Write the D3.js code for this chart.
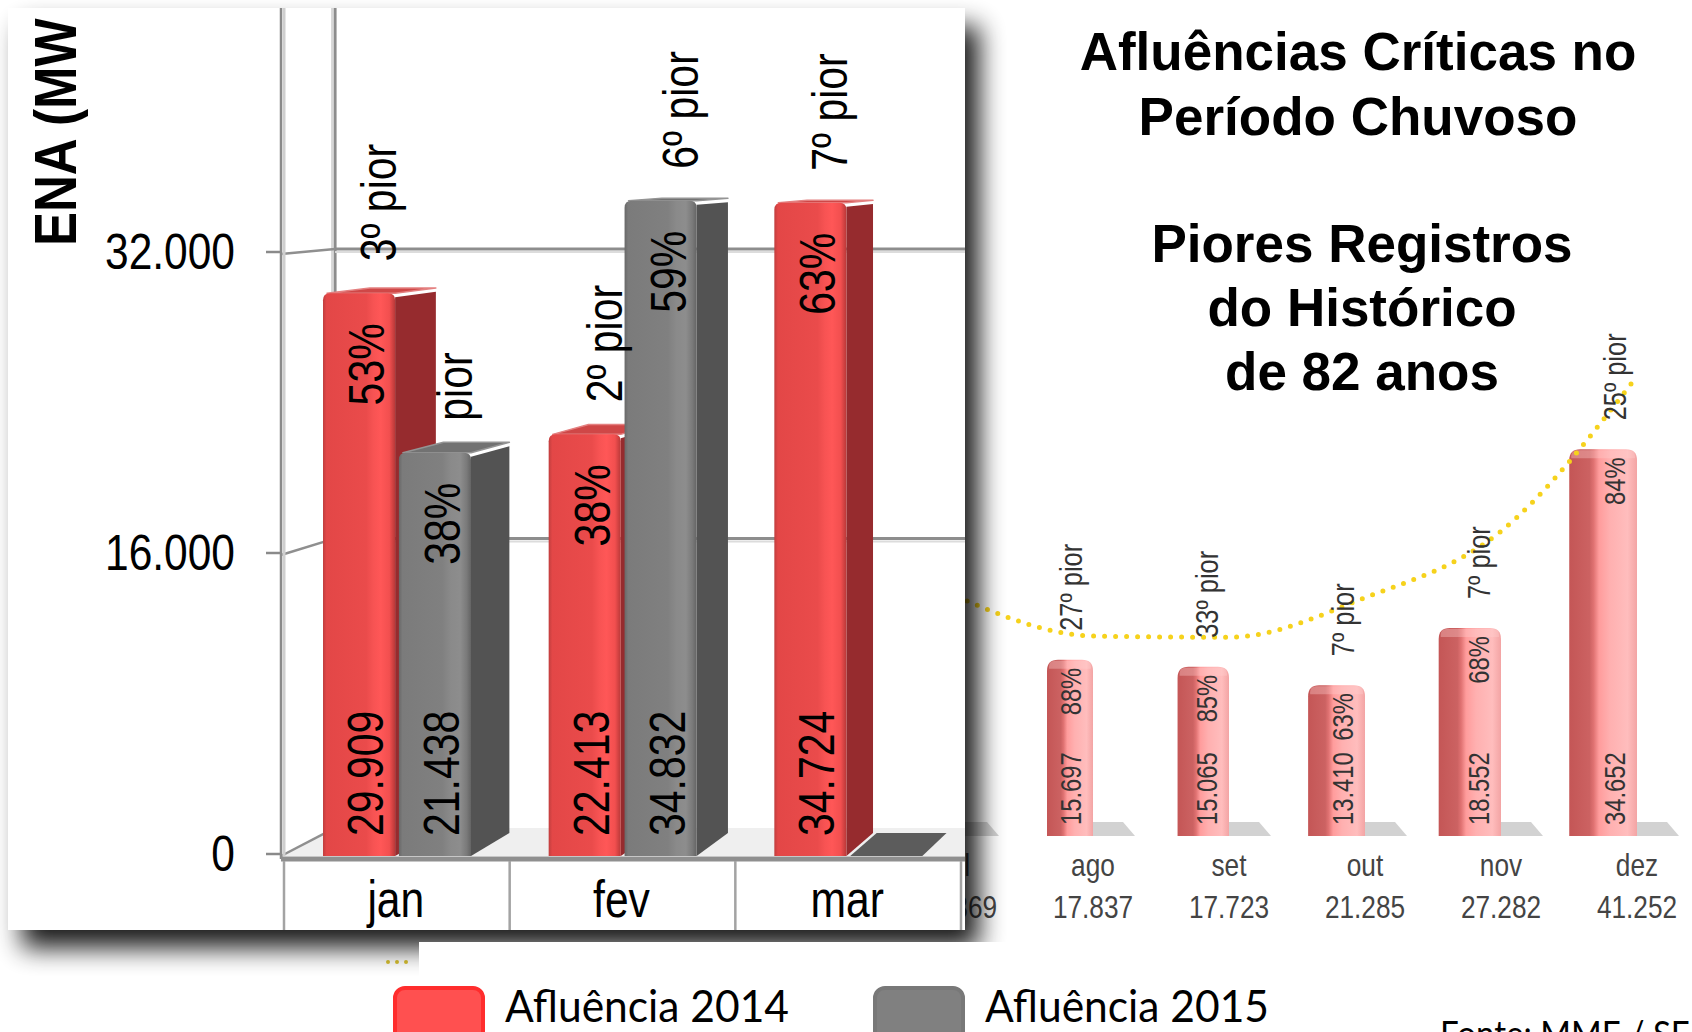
<!DOCTYPE html>
<html><head><meta charset="utf-8">
<script src="https://cdn.jsdelivr.net/npm/d3@7"></script>
<style>
html,body{margin:0;padding:0;background:#fff;overflow:hidden}
svg{display:block}
</style></head><body>
<svg id="c" width="1692" height="1032"></svg>
<script>
// ---------- DATA ----------
const months = ["jan", "fev", "mar"];
const series = ["Afluência 2014", "Afluência 2015"];
const afl2014 = [29909, 22413, 34724];
const afl2015 = [21438, 34832, null];
const pct2014 = ["53%", "38%", "63%"];
const pct2015 = ["38%", "59%", null];
const rank2014 = ["3º pior", "2º pior", "7º pior"];
const rank2015 = ["pior", "6º pior", null];
const yTicks = [0, 16000, 32000];
const yTitle = "ENA (MW médio)";

const bgMonths = ["jul", "ago", "set", "out", "nov", "dez"];
const bgAfl = [null, 15697, 15065, 13410, 18552, 34652];
const bgPct = [null, "88%", "85%", "63%", "68%", "84%"];
const bgRank = [null, "27º pior", "33º pior", "7º pior", "7º pior", "25º pior"];
const bgMlt = [21369, 17837, 17723, 21285, 27282, 41252];

const titleA = ["Afluências Críticas no", "Período Chuvoso"];
const titleB = ["Piores Registros", "do Histórico", "de 82 anos"];
const source = "Fonte: MME / SE";

// ---------- SETUP ----------
const fmt = d3.formatLocale({decimal: ",", thousands: ".", grouping: [3], currency: ["", ""]}).format(",d");
const svg = d3.select("#c");
const defs = svg.append("defs");
const SANS = "'Liberation Sans', Arial, sans-serif";
const NARROW = 0.82;

function hgrad(id, stops) {
  const g = defs.append("linearGradient").attr("id", id)
    .attr("x1", 0).attr("x2", 1).attr("y1", 0).attr("y2", 0);
  stops.forEach(([o, c]) => g.append("stop").attr("offset", o).attr("stop-color", c));
}
hgrad("gRed", [[0, "#c03e3e"], [0.05, "#e34747"], [0.6, "#ea4b4b"], [0.7, "#f75353"], [0.8, "#ff5757"], [0.92, "#f24f4f"], [1, "#b83838"]]);
hgrad("gGray", [[0, "#686868"], [0.05, "#7b7b7b"], [0.6, "#808080"], [0.72, "#8a8a8a"], [0.85, "#8d8d8d"], [0.94, "#7a7a7a"], [1, "#646464"]]);
hgrad("gPink", [[0, "#c45656"], [0.3, "#cc6262"], [0.36, "#e07272"], [0.44, "#ff9c9c"], [0.6, "#ffb0b0"], [0.86, "#ffbdbd"], [1, "#f3a4a4"]]);

const flt = defs.append("filter").attr("id", "shadow")
  .attr("x", "-8%").attr("y", "-8%").attr("width", "125%").attr("height", "125%");
flt.append("feGaussianBlur").attr("in", "SourceAlpha").attr("stdDeviation", 13).attr("result", "b");
flt.append("feOffset").attr("in", "b").attr("dx", 14).attr("dy", 18).attr("result", "o");
flt.append("feComponentTransfer").attr("in", "o").attr("result", "s")
  .append("feFuncA").attr("type", "linear").attr("slope", 0.9);
const mg = flt.append("feMerge");
mg.append("feMergeNode").attr("in", "s");
mg.append("feMergeNode").attr("in", "SourceGraphic");

defs.append("clipPath").attr("id", "panelClip")
  .append("rect").attr("x", 8).attr("y", 8).attr("width", 957).attr("height", 922);

function ntext(g, x, y, txt, o = {}) {
  return g.append("text")
    .attr("transform", `translate(${x},${y})` + (o.rot ? ` rotate(${o.rot})` : "") + ` scale(${o.sx ?? NARROW},1)`)
    .attr("font-family", o.family || SANS)
    .attr("font-size", o.size || 50)
    .attr("font-weight", o.weight || "normal")
    .attr("fill", o.fill || "#000")
    .attr("text-anchor", o.anchor || "start")
    .attr("dominant-baseline", o.baseline || "auto")
    .text(txt);
}
function roundTop(x, y, w, h, r) {
  return `M${x},${y + h}V${y + r}Q${x},${y} ${x + r},${y}H${x + w - r}Q${x + w},${y} ${x + w},${y + r}V${y + h}Z`;
}

// ---------- BACKGROUND CHART (right) ----------
const bg = svg.append("g");
const xBg = d3.scalePoint().domain(bgMonths).range([957, 1637]);
const yBg = d3.scaleLinear().domain([0, 40000]).range([834, 390]);
const bgFloor = yBg(0) + 2;

bgMonths.forEach((m, i) => {
  const c = xBg(m);
  bg.append("polygon")
    .attr("points", [[c, bgFloor], [c + 42, bgFloor], [c + 30, bgFloor - 14], [c - 4, bgFloor - 14]].join(" "))
    .attr("fill", "#d2d2d2");
});

bgMonths.forEach((m, i) => {
  if (bgAfl[i] == null) return;
  const c = xBg(m);
  const w = 46 + (c - xBg("ago")) * 0.04;
  const yT = yBg(bgAfl[i]);
  bg.append("path").attr("d", roundTop(c - w, yT, w, bgFloor - yT, 11)).attr("fill", "url(#gPink)");
  bg.append("path").attr("d", roundTop(c - w + 2, yT + 1, w - 4, 8, 6)).attr("fill", "#ffd0d0").attr("opacity", 0.35);
});

const mltLine = d3.line().x((d, i) => xBg(bgMonths[i])).y(d => yBg(d)).curve(d3.curveMonotoneX);
bg.append("path").attr("d", mltLine(bgMlt))
  .attr("fill", "none").attr("stroke", "#f6d21c").attr("stroke-width", 5)
  .attr("stroke-linecap", "round").attr("stroke-dasharray", "0 11");

bgMonths.forEach((m, i) => {
  const c = xBg(m);
  if (bgAfl[i] != null) {
    const yT = yBg(bgAfl[i]);
    ntext(bg, c - 22, yT + 8, bgPct[i], {rot: -90, size: 29, anchor: "end", baseline: "central", fill: "#333"});
    ntext(bg, c - 22, bgFloor - 11, fmt(bgAfl[i]), {rot: -90, size: 29, anchor: "start", baseline: "central", fill: "#333"});
    ntext(bg, c - 22, yT - 29, bgRank[i], {rot: -90, size: 31, anchor: "start", baseline: "central", fill: "#333"});
  }
  ntext(bg, c, 865, m, {size: 32, anchor: "middle", baseline: "central", fill: "#444"});
  ntext(bg, c, 907, fmt(bgMlt[i]), {size: 32, anchor: "middle", baseline: "central", fill: "#444"});
});

// Title
const tg = svg.append("g").attr("font-family", SANS).attr("font-weight", "bold")
  .attr("font-size", 53).attr("text-anchor", "middle").attr("fill", "#000");
titleA.forEach((t, i) => tg.append("text").attr("x", 1358).attr("y", 70 + i * 65).text(t));
titleB.forEach((t, i) => tg.append("text").attr("x", 1362).attr("y", 262 + i * 64).text(t));

// small yellow legend dots (partly hidden)
svg.append("path").attr("d", "M388,962H414")
  .attr("stroke", "#d8c030").attr("stroke-width", 4).attr("stroke-linecap", "round")
  .attr("stroke-dasharray", "0 9");

// ---------- MAIN PANEL ----------
svg.append("rect").attr("x", 8).attr("y", 8).attr("width", 957).attr("height", 922)
  .attr("fill", "#fff").attr("filter", "url(#shadow)");
const P = svg.append("g").attr("clip-path", "url(#panelClip)");

const x = d3.scaleBand().domain(months).range([283, 960]);
const xs = d3.scaleBand().domain(series).range([40, 188]).paddingInner(0.05);
const y = d3.scaleLinear().domain([0, 32000]).range([856, 254]);
const VP = {x: 1693, y: 122}, K = 0.0383, FB = 0.82;
const dp = (px, py, f) => [px + f * K * (VP.x - px), py + f * K * (VP.y - py)];
const AX = 281;

// floor
const fb0 = dp(AX, y(0), 1);
P.append("polygon").attr("points", [[AX, y(0)], fb0, [980, fb0[1]], [980, y(0)]].join(" ")).attr("fill", "#efefef");
// back wall vertical
P.append("line").attr("x1", fb0[0]).attr("x2", fb0[0]).attr("y1", 8).attr("y2", fb0[1])
  .attr("stroke", "#8c8c8c").attr("stroke-width", 3);
P.append("line").attr("x1", fb0[0] - 3).attr("x2", fb0[0] - 3).attr("y1", 8).attr("y2", fb0[1])
  .attr("stroke", "#d6d6d6").attr("stroke-width", 2);
// gridlines + diagonals + ticks
yTicks.forEach(v => {
  const b = dp(AX, y(v), 1);
  if (v > 0) {
    P.append("line").attr("x1", b[0]).attr("x2", 970).attr("y1", b[1]).attr("y2", b[1])
      .attr("stroke", "#8d8d8d").attr("stroke-width", 3);
    P.append("line").attr("x1", b[0]).attr("x2", 970).attr("y1", b[1] + 3).attr("y2", b[1] + 3)
      .attr("stroke", "#dcdcdc").attr("stroke-width", 2);
  }
  P.append("line").attr("x1", AX).attr("y1", y(v)).attr("x2", b[0]).attr("y2", b[1])
    .attr("stroke", "#8f8f8f").attr("stroke-width", 2.5);
  P.append("line").attr("x1", 266).attr("x2", AX).attr("y1", y(v) - 2).attr("y2", y(v) - 2)
    .attr("stroke", "#8a8a8a").attr("stroke-width", 2.5);
  ntext(P, 235, y(v) - 2, fmt(v), {size: 50, sx: 0.85, anchor: "end", baseline: "central"});
});
// front axis line
P.append("line").attr("x1", AX).attr("x2", AX).attr("y1", 8).attr("y2", y(0) + 3)
  .attr("stroke", "#8a8a8a").attr("stroke-width", 2.5);
P.append("line").attr("x1", AX + 3).attr("x2", AX + 3).attr("y1", 8).attr("y2", y(0))
  .attr("stroke", "#cfcfcf").attr("stroke-width", 3);

// bars
const rows = [];
months.forEach((m, i) => {
  rows.push({m, s: series[0], v: afl2014[i], pct: pct2014[i], rank: rank2014[i], red: true});
  rows.push({m, s: series[1], v: afl2015[i], pct: pct2015[i], rank: rank2015[i], red: false});
});
const w = xs.bandwidth();
rows.forEach(d => {
  const x0 = x(d.m) + xs(d.s), x1 = x0 + w, yB = y(0);
  if (d.v == null) {
    P.append("polygon").attr("points", [[x0, yB], dp(x0, yB, FB), dp(x1, yB, FB), [x1, yB]].join(" "))
      .attr("fill", d.red ? "#8f2a2a" : "#5c5c5c");
    return;
  }
  const yT = y(d.v);
  P.append("polygon").attr("points", [[x1, yT + 4], dp(x1, yT + 4, FB), dp(x1, yB, FB), [x1, yB]].join(" "))
    .attr("fill", d.red ? "#962b2e" : "#535353");
  P.append("polygon").attr("points", [[x0 + 4, yT], dp(x0 + 4, yT, FB), dp(x1, yT, FB), [x1, yT]].join(" "))
    .attr("fill", d.red ? "#cf4747" : "#727272")
    .attr("stroke", d.red ? "#e48080" : "#949494").attr("stroke-width", 1.5).attr("stroke-linejoin", "round");
  P.append("path").attr("d", roundTop(x0, yT, w, yB - yT, 7)).attr("fill", d.red ? "url(#gRed)" : "url(#gGray)");
});
// front floor edge
P.append("line").attr("x1", AX).attr("x2", 970).attr("y1", y(0) + 3).attr("y2", y(0) + 3)
  .attr("stroke", "#8f8f8f").attr("stroke-width", 5);

// bar labels
rows.forEach(d => {
  if (d.v == null) return;
  const cx = x(d.m) + xs(d.s) + w / 2;
  const yT = y(d.v);
  ntext(P, cx + 8, yT + 30, d.pct, {rot: -90, size: 50, anchor: "end", baseline: "central"});
  ntext(P, cx + 7, y(0) - 20, fmt(d.v), {rot: -90, size: 50, anchor: "start", baseline: "central"});
  ntext(P, cx + 20, yT - 32, d.rank, {rot: -90, size: 50, anchor: "start", baseline: "central"});
});

// category table
x.domain().forEach(m => {
  P.append("line").attr("x1", x(m) + 1).attr("x2", x(m) + 1).attr("y1", y(0) + 5).attr("y2", 930)
    .attr("stroke", "#a3a3a3").attr("stroke-width", 2.5);
  ntext(P, x(m) + x.bandwidth() / 2, 899, m, {size: 52, anchor: "middle", baseline: "central"});
});
P.append("line").attr("x1", 961).attr("x2", 961).attr("y1", y(0) + 5).attr("y2", 930)
  .attr("stroke", "#a3a3a3").attr("stroke-width", 2.5);

// y title
ntext(P, 56, 246, yTitle, {rot: -90, size: 60, sx: 0.85, weight: "bold", anchor: "start", baseline: "central"});

// ---------- LEGEND ----------
const L = svg.append("g");
L.append("rect").attr("x", 419).attr("y", 942).attr("width", 1300).attr("height", 100).attr("fill", "#fff");
const legCol = [{fill: "#ff5050", stroke: "#ff2d2d"}, {fill: "#808080", stroke: "#787878"}];
const legX = d3.scalePoint().domain(series).range([395, 875]);
series.forEach((s, i) => {
  const lx = legX(s);
  L.append("rect").attr("x", lx).attr("y", 988).attr("width", 88).attr("height", 62).attr("rx", 10)
    .attr("fill", legCol[i].fill).attr("stroke", legCol[i].stroke).attr("stroke-width", 4);
  L.append("text").attr("x", lx + 110).attr("y", 1022).attr("font-family", "Lato, 'Open Sans', sans-serif")
    .attr("font-size", 45).attr("textLength", 284).attr("lengthAdjust", "spacingAndGlyphs")
    .attr("fill", "#000").text(s);
});
L.append("text").attr("x", 1440).attr("y", 1047).attr("font-family", "Lato, 'Open Sans', sans-serif")
  .attr("font-size", 36).attr("textLength", 250).attr("lengthAdjust", "spacingAndGlyphs")
  .attr("fill", "#000").text(source);
</script>
</body></html>
